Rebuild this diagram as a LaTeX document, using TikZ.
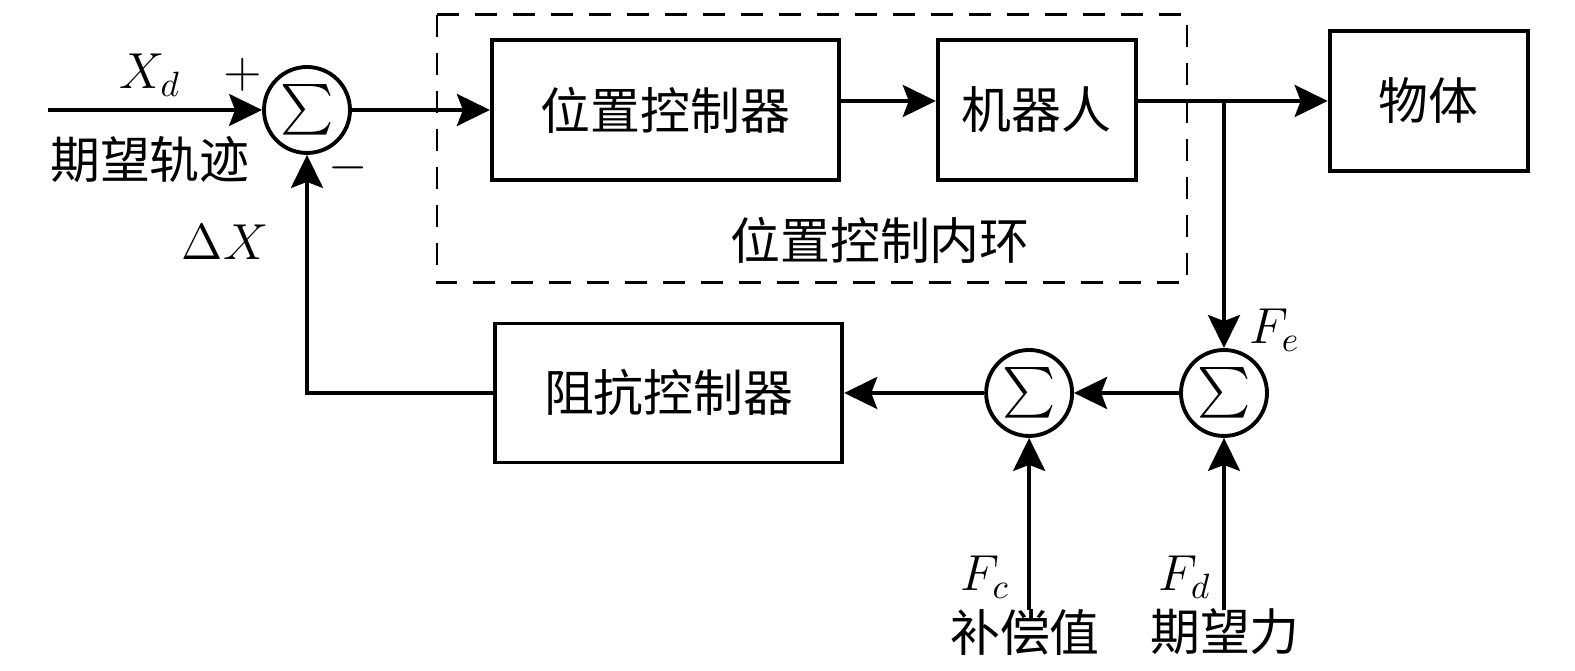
\documentclass[tikz,border=0pt]{standalone}
\usepackage{amsmath}
\usepackage{fontspec}
\newfontfamily\cjk{Noto Sans CJK SC}
\usetikzlibrary{arrows.meta, positioning}

\begin{document}
\begin{tikzpicture}[
		every node/.style={font=\fontsize{14.2}{17}\selectfont},
		block/.style={
			rectangle,
			draw,
			line width=1.1pt,
			inner sep=0pt,
			minimum width=3.47cm,
			minimum height=1.40cm,
			font=\fontsize{14.2}{17}\selectfont\cjk
		},
		sumnode/.style={
			circle,
			draw,
			line width=1.1pt,
			inner sep=0pt,
			minimum size=0.86cm
		},
		arrow/.style={
			-{Stealth[length=3.3mm, width=3.2mm, inset=0.6mm]},
			line width=1.1pt
		},
		txt/.style={font=\fontsize{14.2}{17}\selectfont\cjk, inner sep=0pt}
		]
		\useasboundingbox (0,0) rectangle (15.75,6.71);
		
		% Nodes
		\node[sumnode] (sumX) at (3.07,5.61) {$\textstyle\sum$};
		\node[block, right=1.38cm of sumX] (posctrl) {位置控制器};
		\node[block, right=0.95cm of posctrl, minimum width=1.98cm] (robot) {机器人};
		\node[block, right=1.90cm of robot, minimum width=1.98cm, yshift=0.09cm] (object) {物体};
		
		\node[sumnode] (sumE) at (12.24,2.78) {$\textstyle\sum$};
		\node[sumnode, left=1.05cm of sumE] (sumC) {$\textstyle\sum$};
		\node[block, left=1.40cm of sumC, minimum height=1.39cm] (impctrl) {阻抗控制器};
		
		% Inner loop frame
		\draw[line width=0.85pt, dash pattern=on 0.22cm off 0.16cm]
		(4.37,6.56) rectangle (11.87,3.88);
		\node[txt] (looplbl) at (8.80,4.31) {位置控制内环};
		
		% Free ends
		\coordinate (xin) at (0.48,5.61);
		\coordinate (fcin) at (sumC |- 0,0.61);
		\coordinate (fdin) at (sumE |- 0,0.61);
		
		% Arrows (main flow)
		\draw[arrow] (xin) -- (sumX.west);
		\draw[arrow] (sumX.east) -- (posctrl.west |- sumX.east);
		\draw[arrow] (posctrl.east |- object.west) -- (robot.west |- object.west);
		\draw[arrow] (robot.east |- object.west) -- (object.west);
		\draw[arrow] (sumE |- object.west) -- (sumE.north);
		
		% Force loop
		\draw[arrow] (sumE.west) -- (sumC.east);
		\draw[arrow] (sumC.west) -- (impctrl.east |- sumC.west);
		\draw[arrow] (impctrl.west) -| (sumX.south);
		\draw[arrow] (fcin) -- (sumC.south);
		\draw[arrow] (fdin) -- (sumE.south);
		
		% Labels
		\node (xd) at (1.50,5.96) {$X_d$};
		\node[txt] (xdtxt) at (1.50,5.11) {期望轨迹};
		\node (plus) at (2.43,5.96) {$+$};
		\node (minus) at (3.48,5.03) {$-$};
		\node (dx) at (2.25,4.29) {$\Delta X$};
		\node (fe) at (12.75,3.41) {$F_e$};
		\node (fc) at (9.85,0.94) {$F_c$};
		\node[txt] (fctxt) at (10.25,0.39) {补偿值};
		\node (fd) at (11.85,0.94) {$F_d$};
		\node[txt] (fdtxt) at (12.25,0.39) {期望力};
	\end{tikzpicture}
\end{document}
